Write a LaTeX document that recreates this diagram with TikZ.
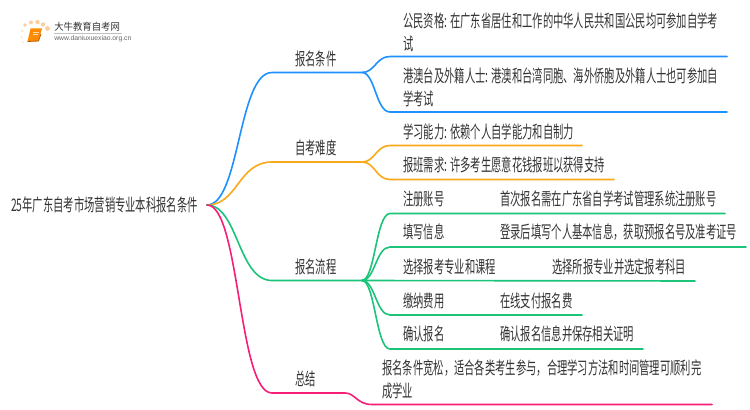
\documentclass[tikz,border=0pt]{standalone}
\usepackage{fontspec}
\setmainfont{Noto Sans CJK SC}[FakeStretch=0.594]
\newfontfamily\logofont{Noto Sans CJK SC}[FakeStretch=0.95]
\newfontfamily\urlfont{Liberation Sans}
\definecolor{bluebr}{HTML}{1E90FF}
\definecolor{orangebr}{HTML}{F9A91A}
\definecolor{greenbr}{HTML}{1CC47A}
\definecolor{pinkbr}{HTML}{F81E78}
\definecolor{inktext}{HTML}{333333}
\tikzset{
  item/.style={anchor=west,inner sep=0pt,align=left,text=inktext,font=\fontsize{13pt}{17.2pt}\selectfont},
  branch/.style={line width=1.2pt,line cap=round}
}
\begin{document}
\begin{tikzpicture}[x=0.75pt,y=-0.75pt]
\useasboundingbox (0,0) rectangle (750,410);
\fill[white] (0,0) rectangle (750,410);

\fill[orange!55,opacity=.7] (25,25) circle (1.8) (31,22.5) circle (2) (37.5,22) circle (2.2) (43,24.5) circle (2.2) (47.5,28.5) circle (2.4);
\fill[orange!30,opacity=.7] (22,31) circle (1.3) (21.5,37) circle (1.2) (23,42.5) circle (1);
\fill[orange!90!yellow] (30.5,28.5) -- (42,28.5) -- (38.5,41) -- (27.5,41.5) -- cycle;
\draw[orange!70!black,line width=.6pt] (27.5,41.5) -- (38.5,41) -- (41,34);
\draw[white,opacity=.7,line width=.7pt] (33,32) -- (38.5,32) (32.6,34.5) -- (38,34.5);
\node[font=\logofont\fontsize{7.4pt}{9pt}\selectfont,text=inktext,inner sep=0pt,anchor=west] (logoname) at (54,27) {大牛教育自考网};
\draw[black!25,line width=.4pt] (54,33.5) -- (122,33.5);
\node[font=\urlfont\fontsize{5.1pt}{6pt}\selectfont,text=black!60,inner sep=0pt,anchor=west] (logourl) at (54,38.7) {www.daniuxuexiao.org.cn};

\node[item] (root) at (11,205) {25年广东自考市场营销专业本科报名条件};
\coordinate (rootout) at (207,205);

\node[item] (cond) at (295,59) {报名条件};
\node[item] (diff) at (295,148) {自考难度};
\node[item] (proc) at (295,267) {报名流程};
\node[item] (summ) at (295,379) {总结};

\node[item] (citizen) at (403,32.5) {公民资格: 在广东省居住和工作的中华人民共和国公民均可参加自学考\\试};
\node[item] (overseas) at (403,87.5) {港澳台及外籍人士: 港澳和台湾同胞、海外侨胞及外籍人士也可参加自\\学考试};
\node[item] (ability) at (403,132) {学习能力: 依赖个人自学能力和自制力};
\node[item] (classes) at (403,165) {报班需求: 许多考生愿意花钱报班以获得支持};

\node[item] (regname) at (403,199) {注册账号};
\node[item] (regtext) at (500,199) {首次报名需在广东省自学考试管理系统注册账号};
\node[item] (fillname) at (403,232) {填写信息};
\node[item] (filltext) at (500,232) {登录后填写个人基本信息，获取预报名号及准考证号};
\node[item] (majorname) at (403,267) {选择报考专业和课程};
\node[item] (majortext) at (552,267) {选择所报专业并选定报考科目};
\node[item] (payname) at (403,301) {缴纳费用};
\node[item] (paytext) at (500,301) {在线支付报名费};
\node[item] (confname) at (403,334) {确认报名};
\node[item] (conftext) at (500,334) {确认报名信息并保存相关证明};
\node[item] (summtext) at (382,379.5) {报名条件宽松，适合各类考生参与，合理学习方法和时间管理可顺利完\\成学业};

\coordinate (condfork) at (362,72.5);
\coordinate (difffork) at (362,162);
\coordinate (procfork) at (362,280.5);
\coordinate (summfork) at (345,393);

\draw[branch,bluebr] (rootout) .. controls (240,205) and (238,72.5) .. (272,72.5) -- (condfork);
\draw[branch,orangebr] (rootout) .. controls (238,205) and (238,162) .. (272,162) -- (difffork);
\draw[branch,greenbr] (rootout) .. controls (238,205) and (238,280.5) .. (272,280.5) -- (procfork);
\draw[branch,pinkbr] (rootout) .. controls (240,205) and (238,393) .. (272,393) -- (summfork) .. controls (355,393) and (357,404.5) .. (372,404.5) -- (712,404.5);

\draw[branch,bluebr] (condfork) .. controls (375,72.5) and (376,56.5) .. (390,56.5) -- (727,56.5);
\draw[branch,bluebr] (condfork) .. controls (375,72.5) and (376,112) .. (390,112) -- (727,112);
\draw[branch,orangebr] (difffork) .. controls (375,162) and (376,145.5) .. (390,145.5) -- (582,145.5);
\draw[branch,orangebr] (difffork) .. controls (375,162) and (376,179.5) .. (390,179.5) -- (614,179.5);

\draw[branch,greenbr] (procfork) .. controls (375,280.5) and (376,213.5) .. (390,213.5) -- (725,213.5);
\draw[branch,greenbr] (procfork) .. controls (375,280.5) and (376,247) .. (390,247) -- (746,247);
\draw[branch,greenbr] (procfork) -- (695,281);
\draw[branch,greenbr] (procfork) .. controls (375,280.5) and (376,315) .. (390,315) -- (582,315);
\draw[branch,greenbr] (procfork) .. controls (375,280.5) and (376,349) .. (390,349) -- (643,349);
\end{tikzpicture}
\end{document}
